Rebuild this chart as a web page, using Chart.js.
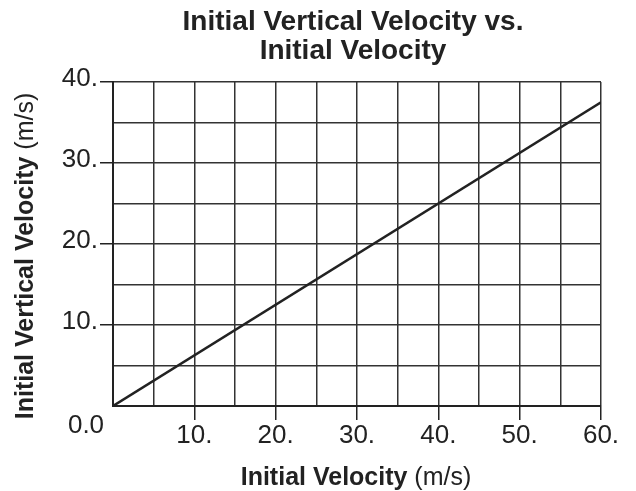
<!DOCTYPE html>
<html>
<head>
<meta charset="utf-8">
<script src="https://cdn.jsdelivr.net/npm/chart.js@4/dist/chart.umd.min.js"></script>
<style>
  html, body { margin: 0; padding: 0; background: #fff; }
  canvas { display: block; }
</style>
</head>
<body>
<canvas id="chart" width="636" height="491"></canvas>
<script>
// data
var xValues = [0, 60];
var yValues = [0, 37.5];
var xTickValues = [10, 20, 30, 40, 50, 60];
var xTickLabels = ['10.', '20.', '30.', '40.', '50.', '60.'];
var yTickValues = [10, 20, 30, 40];
var yTickLabels = ['10.', '20.', '30.', '40.'];
var originLabel = '0.0';
var titleLines = ['Initial Vertical Velocity vs.', 'Initial Velocity'];
var xTitle = ['Initial Velocity ', '(m/s)'];
var yTitle = ['Initial Vertical Velocity ', '(m/s)'];

var FONT = "'Liberation Sans', Arial, sans-serif";
var INK = '#222';

function labelFor(values, labels) {
    return function(v) {
        var i = values.indexOf(v);
        return i < 0 ? '' : labels[i];
    };
}
function tickColorFor(values) {
    return function(c) {
        return (c.tick && values.indexOf(c.tick.value) >= 0) ? INK : 'rgba(0,0,0,0)';
    };
}

// bold name + regular unit, centred on (0,0)
function drawMixed(ctx, parts) {
    ctx.font = 'bold 25px ' + FONT;
    var w1 = ctx.measureText(parts[0]).width;
    ctx.font = '25px ' + FONT;
    var w2 = ctx.measureText(parts[1]).width;
    var x0 = -(w1 + w2) / 2;
    ctx.textAlign = 'left';
    ctx.textBaseline = 'alphabetic';
    ctx.font = 'bold 25px ' + FONT;
    ctx.fillText(parts[0], x0, 0);
    ctx.font = '25px ' + FONT;
    ctx.fillText(parts[1], x0 + w1, 0);
}

// title centred over the plot, axis titles with bold name and plain unit
var extraText = {
    id: 'extraText',
    afterDraw: function(chart) {
        var ctx = chart.ctx, a = chart.chartArea;
        var sx = chart.scales.x, sy = chart.scales.y;
        var cx = (a.left + a.right) / 2;
        ctx.save();
        ctx.fillStyle = INK;
        ctx.font = 'bold 28px ' + FONT;
        ctx.textAlign = 'center';
        ctx.textBaseline = 'alphabetic';
        ctx.fillText(titleLines[0], cx - 4, 30);
        ctx.fillText(titleLines[1], cx - 4, 59);
        // x axis title
        ctx.save();
        ctx.translate(cx - 1, 485);
        drawMixed(ctx, xTitle);
        ctx.restore();
        // y axis title
        ctx.save();
        ctx.translate(33, (a.top + a.bottom) / 2 + 12);
        ctx.rotate(-Math.PI / 2);
        drawMixed(ctx, yTitle);
        ctx.restore();
        // origin label
        ctx.font = '26px ' + FONT;
        ctx.textAlign = 'center';
        ctx.fillText(originLabel, sx.getPixelForValue(0) - 27, sy.getPixelForValue(0) + 27);
        ctx.restore();
    }
};

var chart = new Chart(document.getElementById('chart').getContext('2d'), {
    type: 'scatter',
    data: {
        datasets: [{
            data: xValues.map(function(x, i) { return {x: x, y: yValues[i]}; }),
            showLine: true,
            borderColor: INK,
            borderWidth: 2.5,
            pointRadius: 0,
            fill: false
        }]
    },
    options: {
        responsive: false,
        animation: false,
        events: [],
        layout: { padding: { left: 0, right: 35, top: 82, bottom: 0 } },
        plugins: {
            legend: { display: false },
            tooltip: { enabled: false },
            title: { display: false }
        },
        scales: {
            x: {
                type: 'linear',
                min: 0,
                max: 60,
                afterFit: function(s) { s.height = 85; },
                border: { color: INK, width: 2 },
                grid: {
                    color: '#333',
                    lineWidth: 1.5,
                    tickLength: 14,
                    tickColor: tickColorFor(xTickValues),
                    tickWidth: 1.5
                },
                ticks: {
                    stepSize: 5,
                    autoSkip: false,
                    maxRotation: 0,
                    padding: 0,
                    color: INK,
                    font: { family: FONT, size: 26 },
                    callback: labelFor(xTickValues, xTickLabels)
                }
            },
            y: {
                type: 'linear',
                min: 0,
                max: 40,
                afterFit: function(s) { s.width = 113; },
                border: { color: INK, width: 2 },
                grid: {
                    color: '#333',
                    lineWidth: 1.5,
                    tickLength: 13,
                    tickColor: tickColorFor(yTickValues),
                    tickWidth: 1.5
                },
                ticks: {
                    stepSize: 5,
                    autoSkip: false,
                    padding: 2,
                    labelOffset: -3,
                    color: INK,
                    font: { family: FONT, size: 26 },
                    callback: labelFor(yTickValues, yTickLabels)
                }
            }
        }
    },
    plugins: [extraText]
});
</script>
</body>
</html>
